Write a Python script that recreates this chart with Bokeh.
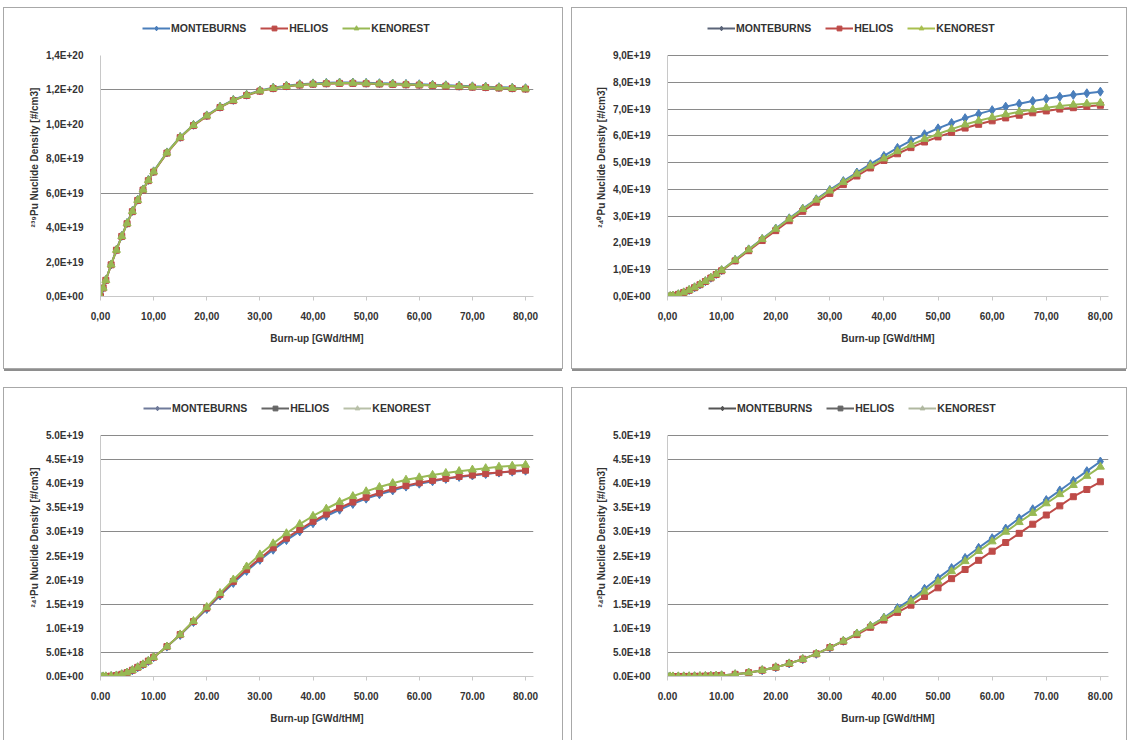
from bokeh.plotting import figure
from bokeh.models import ColumnDataSource, FixedTicker, Legend, LegendItem, Range1d
from bokeh.layouts import column, row
from bokeh.embed import file_html
from bokeh.resources import INLINE

E19 = 1e19
NAN = float("nan")

# Burn-up steps [GWd/tHM]
burnup = [0, 0.5, 1, 2, 3, 4, 5, 6, 7, 8, 9, 10, 12.5, 15, 17.5, 20, 22.5, 25, 27.5, 30,
          32.5, 35, 37.5, 40, 42.5, 45, 47.5, 50, 52.5, 55, 57.5, 60, 62.5, 65, 67.5, 70,
          72.5, 75, 77.5, 80]

codes = ["MONTEBURNS", "HELIOS", "KENOREST"]

# Nuclide densities in units of 1e19 #/cm3
pu239_monteburns = [0, 0.5, 0.96, 1.86, 2.72, 3.52, 4.27, 4.97, 5.62, 6.22, 6.77, 7.27, 8.37, 9.27,
                    9.97, 10.52, 11.02, 11.42, 11.72, 11.97, 12.13, 12.25, 12.33, 12.38, 12.41,
                    12.43, 12.43, 12.41, 12.39, 12.37, 12.35, 12.33, 12.3, 12.27, 12.24, 12.21,
                    12.19, 12.16, 12.13, 12.1]
pu239_helios = [0, 0.49, 0.94, 1.84, 2.69, 3.49, 4.23, 4.93, 5.58, 6.18, 6.73, 7.23, 8.33, 9.23,
                9.93, 10.48, 10.98, 11.38, 11.68, 11.93, 12.08, 12.2, 12.28, 12.33, 12.36, 12.38,
                12.38, 12.36, 12.34, 12.32, 12.3, 12.28, 12.25, 12.22, 12.19, 12.16, 12.14, 12.11,
                12.08, 12.05]
pu239_kenorest = [0, 0.5, 0.95, 1.85, 2.7, 3.5, 4.25, 4.95, 5.6, 6.2, 6.75, 7.25, 8.35, 9.25,
                  9.95, 10.5, 11.0, 11.4, 11.7, 11.95, 12.1, 12.22, 12.3, 12.35, 12.38, 12.4,
                  12.4, 12.38, 12.36, 12.34, 12.32, 12.3, 12.27, 12.24, 12.21, 12.18, 12.16,
                  12.13, 12.1, 12.07]

pu240_monteburns = [0, 0.01, 0.03, 0.08, 0.15, 0.24, 0.34, 0.45, 0.57, 0.7, 0.84, 0.98, 1.37,
                    1.76, 2.15, 2.54, 2.92, 3.28, 3.63, 3.98, 4.31, 4.63, 4.94, 5.25, 5.55, 5.82,
                    6.06, 6.28, 6.48, 6.66, 6.82, 6.96, 7.09, 7.2, 7.3, 7.38, 7.46, 7.53, 7.59,
                    7.65]
pu240_helios = [0, 0.01, 0.03, 0.08, 0.15, 0.23, 0.33, 0.44, 0.56, 0.69, 0.82, 0.96, 1.33, 1.71,
                2.09, 2.46, 2.83, 3.18, 3.52, 3.85, 4.18, 4.5, 4.8, 5.08, 5.33, 5.56, 5.77, 5.96,
                6.13, 6.29, 6.43, 6.56, 6.67, 6.77, 6.86, 6.93, 7.0, 7.05, 7.1, 7.14]
pu240_kenorest = [0, 0.01, 0.03, 0.08, 0.15, 0.24, 0.34, 0.45, 0.57, 0.7, 0.84, 0.98, 1.36, 1.75,
                  2.14, 2.52, 2.9, 3.26, 3.61, 3.95, 4.27, 4.58, 4.88, 5.15, 5.42, 5.66, 5.88,
                  6.07, 6.25, 6.42, 6.56, 6.69, 6.8, 6.9, 6.98, 7.05, 7.11, 7.16, 7.2, 7.23]

pu241_monteburns = [0, 0.0, 0.001, 0.008, 0.02, 0.045, 0.08, 0.13, 0.19, 0.25, 0.32, 0.4, 0.62,
                    0.86, 1.13, 1.4, 1.68, 1.94, 2.19, 2.42, 2.63, 2.83, 3.01, 3.18, 3.33, 3.46,
                    3.58, 3.69, 3.78, 3.86, 3.94, 4.0, 4.05, 4.1, 4.14, 4.17, 4.2, 4.23, 4.25, 4.27]
pu241_helios = [0, 0.0, 0.001, 0.008, 0.02, 0.045, 0.08, 0.13, 0.19, 0.25, 0.32, 0.4, 0.62, 0.87,
                1.14, 1.42, 1.7, 1.97, 2.22, 2.45, 2.67, 2.87, 3.05, 3.22, 3.37, 3.5, 3.62, 3.72,
                3.81, 3.89, 3.96, 4.02, 4.07, 4.11, 4.15, 4.18, 4.21, 4.23, 4.26, 4.28]
pu241_kenorest = [0, 0.0, 0.001, 0.008, 0.02, 0.045, 0.08, 0.13, 0.19, 0.25, 0.32, 0.4, 0.62, 0.87,
                  1.15, 1.44, 1.73, 2.01, 2.28, 2.53, 2.76, 2.97, 3.16, 3.33, 3.48, 3.62, 3.74,
                  3.84, 3.93, 4.01, 4.08, 4.13, 4.18, 4.22, 4.26, 4.29, 4.32, 4.35, 4.37, 4.39]

pu242_monteburns = [0, 0, 0, 0.0005, 0.001, 0.002, 0.003, 0.005, 0.008, 0.012, 0.017, 0.023,
                    0.045, 0.08, 0.13, 0.19, 0.27, 0.36, 0.47, 0.6, 0.74, 0.89, 1.05, 1.22, 1.42,
                    1.6, 1.82, 2.04, 2.25, 2.46, 2.67, 2.87, 3.07, 3.28, 3.47, 3.66, 3.86, 4.06,
                    4.26, 4.46]
pu242_helios = [0, 0, 0, 0.0005, 0.001, 0.002, 0.003, 0.005, 0.008, 0.012, 0.017, 0.023, 0.045,
                0.08, 0.13, 0.19, 0.27, 0.36, 0.47, 0.6, 0.73, 0.87, 1.02, 1.17, 1.33, 1.48, 1.66,
                1.84, 2.03, 2.22, 2.41, 2.6, 2.78, 2.97, 3.16, 3.35, 3.54, 3.73, 3.88, 4.04]
pu242_kenorest = [0, 0, 0, 0.0005, 0.001, 0.002, 0.003, 0.005, 0.008, 0.012, 0.017, 0.023, 0.045,
                  0.08, 0.13, 0.19, 0.27, 0.36, 0.47, 0.6, 0.74, 0.89, 1.05, 1.21, 1.38, 1.56,
                  1.76, 1.97, 2.18, 2.39, 2.6, 2.8, 3.0, 3.2, 3.39, 3.59, 3.78, 3.97, 4.16, 4.35]

# Axis ticks and labels
x_ticks = [0, 10, 20, 30, 40, 50, 60, 70, 80]
x_labels_comma = ["0,00", "10,00", "20,00", "30,00", "40,00", "50,00", "60,00", "70,00", "80,00"]
x_labels_dot = ["0.00", "10.00", "20.00", "30.00", "40.00", "50.00", "60.00", "70.00", "80.00"]

pu239_ticks = [0, 2e19, 4e19, 6e19, 8e19, 1e20, 1.2e20, 1.4e20]
pu239_labels = ["0,0E+00", "2,0E+19", "4,0E+19", "6,0E+19", "8,0E+19", "1,0E+20", "1,2E+20", "1,4E+20"]
pu239_grid = [6e19, 1.2e20]

pu240_ticks = [0, 1e19, 2e19, 3e19, 4e19, 5e19, 6e19, 7e19, 8e19, 9e19]
pu240_labels = ["0,0E+00", "1,0E+19", "2,0E+19", "3,0E+19", "4,0E+19", "5,0E+19", "6,0E+19",
                "7,0E+19", "8,0E+19", "9,0E+19"]
pu240_grid = [1e19, 3e19, 4e19, 5e19, 6e19, 7e19, 8e19, 9e19]

pu24x_ticks = [0, 5e18, 1e19, 1.5e19, 2e19, 2.5e19, 3e19, 3.5e19, 4e19, 4.5e19, 5e19]
pu24x_labels = ["0.0E+00", "5.0E+18", "1.0E+19", "1.5E+19", "2.0E+19", "2.5E+19", "3.0E+19",
                "3.5E+19", "4.0E+19", "4.5E+19", "5.0E+19"]
pu24x_grid = [5e18, 1.5e19, 3e19, 4.5e19, 5e19]

X_TITLE = "Burn-up [GWd/tHM]"

BLUE, RED, GREEN = "#4A7EBB", "#BE4B48", "#98B954"
MARKERS = ["diamond", "square", "triangle"]
MARKER_SIZES = [9, 6, 8]
FONT = "Liberation Sans"
TEXT = "#333333"

DATA_H = 241   # pixel height of the value range
HEAD = 37      # room above the value range that holds the legend


def panel(width, height, borders, y_max, y_ticks, y_labels, grid, x_labels, y_title,
          series, legend_colors, legend_x, bottom_border=True):
    left, right, top, bottom = borders
    y_top = y_max * (DATA_H + HEAD) / DATA_H
    p = figure(width=width, height=height, output_backend="svg", toolbar_location=None,
               x_range=Range1d(0, 81.5), y_range=Range1d(0, y_top),
               min_border_left=left, min_border_right=right,
               min_border_top=top - HEAD, min_border_bottom=bottom)
    p.outline_line_color = None
    p.background_fill_color = "white"
    p.border_fill_color = "white"

    p.xgrid.visible = False
    p.ygrid.ticker = FixedTicker(ticks=grid)
    p.ygrid.grid_line_color = "#8a8a8a"
    p.ygrid.grid_line_width = 1

    xa = p.xaxis[0]
    xa.ticker = FixedTicker(ticks=x_ticks)
    xa.major_label_overrides = dict(zip(x_ticks, x_labels))
    xa.minor_tick_line_color = None
    xa.major_tick_out = 4
    xa.major_tick_in = 0
    xa.major_tick_line_color = "#c8c8c8"
    xa.axis_line_color = "#c8c8c8"
    xa.major_label_standoff = 11
    xa.axis_label = X_TITLE
    xa.axis_label_standoff = 10

    ya = p.yaxis[0]
    ya.ticker = FixedTicker(ticks=y_ticks)
    ya.bounds = (0, y_max)
    ya.major_label_overrides = dict(zip(y_ticks, y_labels))
    ya.minor_tick_line_color = None
    ya.major_tick_out = 0
    ya.major_tick_in = 0
    ya.axis_line_color = "#c8c8c8"
    ya.major_label_standoff = 17
    ya.axis_label = y_title
    ya.axis_label_standoff = 3

    for ax in (xa, ya):
        ax.major_label_text_font = FONT
        ax.major_label_text_font_size = "10px"
        ax.major_label_text_font_style = "bold"
        ax.major_label_text_color = TEXT
        ax.axis_label_text_font = FONT
        ax.axis_label_text_font_size = "10px"
        ax.axis_label_text_font_style = "bold"
        ax.axis_label_text_color = TEXT

    # data curves, drawn MONTEBURNS -> HELIOS -> KENOREST
    for vals, color, marker, size in zip(series, [BLUE, RED, GREEN], MARKERS, MARKER_SIZES):
        src = ColumnDataSource(dict(x=burnup, y=[v * E19 for v in vals]))
        p.line("x", "y", source=src, line_color=color, line_width=2)
        p.scatter("x", "y", source=src, marker=marker, size=size,
                  fill_color=color, line_color=color)

    # legend entries (swatch renderers hold no visible points)
    items = []
    for name, color, marker, size in zip(codes, legend_colors, MARKERS, MARKER_SIZES):
        swatch = ColumnDataSource(dict(x=[NAN], y=[NAN]))
        lr = p.line("x", "y", source=swatch, line_color=color, line_width=2)
        sr = p.scatter("x", "y", source=swatch, marker=marker, size=size - 2,
                       fill_color=color, line_color=color)
        items.append(LegendItem(label=name, renderers=[lr, sr]))
    legend = Legend(items=items, orientation="horizontal",
                    location=(legend_x, DATA_H + 21),
                    glyph_width=28, glyph_height=12, label_standoff=1, spacing=14,
                    padding=0, margin=0, border_line_alpha=0, background_fill_alpha=0,
                    label_text_font=FONT, label_text_font_size="10.5px",
                    label_text_font_style="bold", label_text_color=TEXT,
                    label_height=12)
    p.add_layout(legend)

    styles = {"outline": "1px solid #a8a8a8"}
    if bottom_border:
        styles["box-shadow"] = "0 3px 0 #8e8e8e"
    p.styles = styles
    return p


p1 = panel(558, 360, (96, 29, 47, 72), 1.4e20, pu239_ticks, pu239_labels, pu239_grid,
           x_labels_comma, "²³⁹Pu Nuclide Density [#/cm3]",
           [pu239_monteburns, pu239_helios, pu239_kenorest], [BLUE, RED, GREEN], 42)
p2 = panel(554, 360, (95, 18, 47, 72), 9e19, pu240_ticks, pu240_labels, pu240_grid,
           x_labels_comma, "²⁴⁰Pu Nuclide Density [#/cm3]",
           [pu240_monteburns, pu240_helios, pu240_kenorest], ["#5b6478", RED, "#a8bf4f"], 40)
p3 = panel(558, 352, (96, 29, 47, 64), 5e19, pu24x_ticks, pu24x_labels, pu24x_grid,
           x_labels_dot, "²⁴¹Pu Nuclide Density [#/cm3]",
           [pu241_monteburns, pu241_helios, pu241_kenorest], ["#6f7a9a", "#666666", "#b8c0a8"], 43,
           bottom_border=False)
p4 = panel(554, 352, (95, 18, 47, 64), 5e19, pu24x_ticks, pu24x_labels, pu24x_grid,
           x_labels_dot, "²⁴²Pu Nuclide Density [#/cm3]",
           [pu242_monteburns, pu242_helios, pu242_kenorest], ["#555555", "#666666", "#b0b8a0"], 41,
           bottom_border=False)

layout = column(row(p1, p2, spacing=10), row(p3, p4, spacing=10), spacing=20,
                margin=(8, 0, 0, 4))

open("out.html", "w").write(file_html(layout, INLINE))
